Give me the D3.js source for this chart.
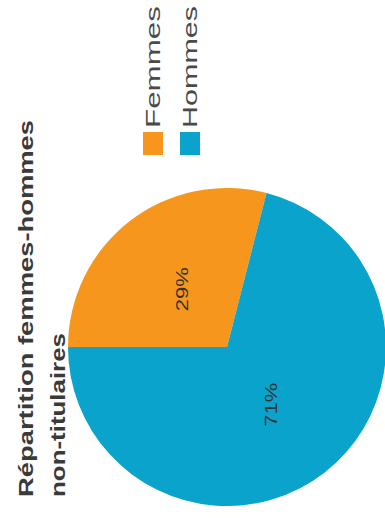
<!DOCTYPE html>
<html>
<head>
<meta charset="utf-8">
<script src="https://cdn.jsdelivr.net/npm/d3@7"></script>
<style>
  html, body { margin: 0; padding: 0; background: #fff; }
  svg { display: block; }
  text { font-family: "Liberation Sans", Arial, sans-serif; }
</style>
</head>
<body>
<div id="chart"></div>
<script>
// Répartition femmes-hommes des non-titulaires
const categories = ["Femmes", "Hommes"];
const shares = [29, 71];
const colors = ["#f7961c", "#0aa3cc"];
const titleLines = ["Répartition femmes-hommes", "non-titulaires"];

const W = 385, H = 518;          // page size

const svg = d3.select("#chart").append("svg")
  .attr("width", W).attr("height", H);

// Everything is drawn in a landscape frame then turned counter-clockwise
const g = svg.append("g")
  .attr("transform", `translate(0,${H}) rotate(-90)`);

// Title
const titleLengths = [377, 164];
g.selectAll("text.title")
  .data(titleLines)
  .join("text")
  .attr("class", "title")
  .attr("x", 21)
  .attr("y", (d, i) => 33 + i * 32)
  .attr("font-size", 21)
  .attr("font-weight", "bold")
  .attr("fill", "#3a3a3a")
  .attr("textLength", (d, i) => titleLengths[i])
  .attr("lengthAdjust", "spacingAndGlyphs")
  .text(d => d);

// Pie
const cx = 171, cy = 227, r = 159;
const data = categories.map((c, i) => ({ cat: c, value: shares[i] }));
const pie = d3.pie().value(d => d.value).sort(null);
const arc = d3.arc().innerRadius(0).outerRadius(r);
const labelArc = d3.arc().innerRadius(r * 0.46).outerRadius(r * 0.46);
const color = d3.scaleOrdinal().domain(categories).range(colors);

const pg = g.append("g").attr("transform", `translate(${cx},${cy})`);
const arcs = pie(data);

pg.selectAll("path")
  .data(arcs)
  .join("path")
  .attr("d", arc)
  .attr("fill", d => color(d.data.cat));

pg.selectAll("text.lbl")
  .data(arcs)
  .join("text")
  .attr("class", "lbl")
  .attr("transform", d => `translate(${labelArc.centroid(d)})`)
  .attr("text-anchor", "middle")
  .attr("dy", "0.35em")
  .attr("font-size", 16)
  .attr("fill", "#333")
  .attr("textLength", 44)
  .attr("lengthAdjust", "spacingAndGlyphs")
  .text(d => d.data.value + "%");

// Legend
const legY = d3.scalePoint().domain(categories).range([153, 190]);
const leg = g.append("g");
const items = leg.selectAll("g")
  .data(categories)
  .join("g")
  .attr("transform", d => `translate(363,${legY(d)})`);

items.append("rect")
  .attr("x", 0).attr("y", -10)
  .attr("width", 23).attr("height", 20)
  .attr("fill", d => color(d));

items.append("text")
  .attr("x", 27)
  .attr("y", 0)
  .attr("dy", "0.36em")
  .attr("font-size", 20)
  .attr("fill", "#4a4a4a")
  .attr("textLength", 122)
  .attr("lengthAdjust", "spacingAndGlyphs")
  .text(d => d);
</script>
</body>
</html>
